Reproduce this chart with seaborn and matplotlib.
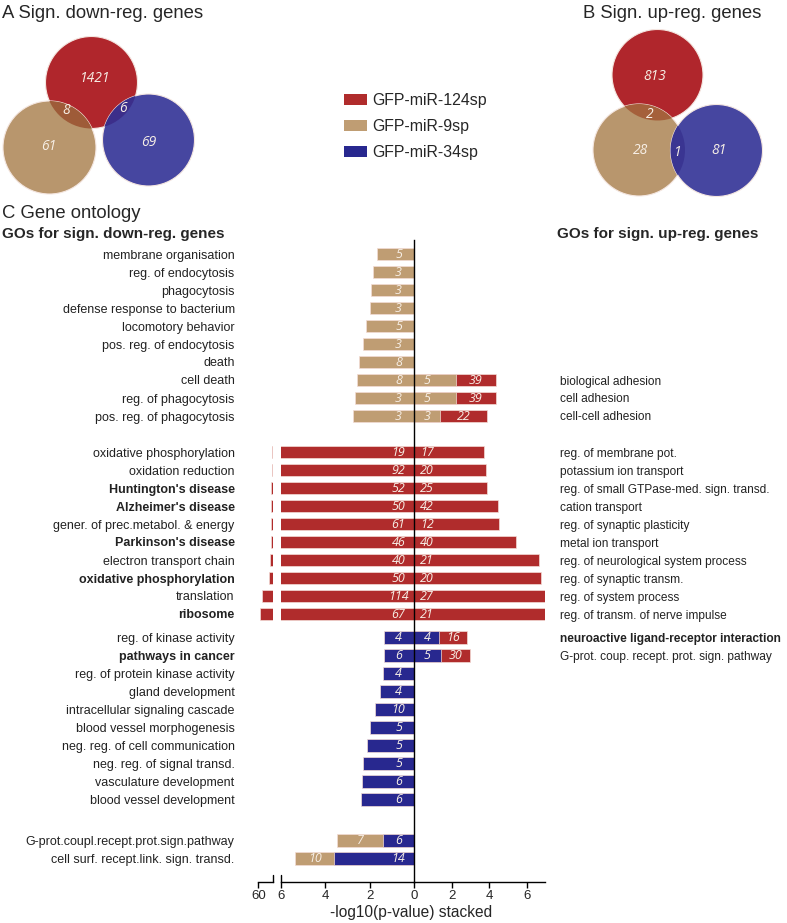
import numpy as np
import pandas as pd
import matplotlib
matplotlib.use("Agg")
import matplotlib.pyplot as plt
from matplotlib.patches import Circle, Patch
import seaborn as sns

# ---------------- data ----------------
series = ["GFP-miR-124sp", "GFP-miR-9sp", "GFP-miR-34sp"]

# Venn counts: 124 only, 9 only, 34 only, 124&9, (124&34 | 9&34)
venn_down_counts = [1421, 61, 69, 8, 6]
venn_up_counts = [813, 28, 81, 2, 1]

down_labels = [
    "membrane organisation", "reg. of endocytosis", "phagocytosis",
    "defense response to bacterium", "locomotory behavior", "pos. reg. of endocytosis",
    "death", "cell death", "reg. of phagocytosis", "pos. reg. of phagocytosis",
    "oxidative phosphorylation", "oxidation reduction", "Huntington's disease",
    "Alzheimer's disease", "gener. of prec.metabol. & energy", "Parkinson's disease",
    "electron transport chain", "oxidative phosphorylation", "translation", "ribosome",
    "reg. of kinase activity", "pathways in cancer", "reg. of protein kinase activity",
    "gland development", "intracellular signaling cascade", "blood vessel morphogenesis",
    "neg. reg. of cell communication", "neg. reg. of signal transd.",
    "vasculature development", "blood vessel development",
    "G-prot.coupl.recept.prot.sign.pathway", "cell surf. recept.link. sign. transd.",
]
down_bold = [12, 13, 15, 17, 19, 21]

up_labels = [""] * 7 + [
    "biological adhesion", "cell adhesion", "cell-cell adhesion",
    "reg. of membrane pot.", "potassium ion transport",
    "reg. of small GTPase-med. sign. transd.", "cation transport",
    "reg. of synaptic plasticity", "metal ion transport",
    "reg. of neurological system process", "reg. of synaptic transm.",
    "reg. of system process", "reg. of transm. of nerve impulse",
    "neuroactive ligand-receptor interaction", "G-prot. coup. recept. prot. sign. pathway",
] + [""] * 10
up_bold = [20]

# -log10(p-value) per segment (down-regulated, drawn to the left)
down_gold = [1.67, 1.84, 1.93, 1.98, 2.17, 2.30, 2.49, 2.56, 2.66, 2.74] + [0] * 20 + [2.08, 1.73]
down_red = [0] * 10 + [59.37, 59.39, 59.41, 59.42, 59.43, 59.44, 59.46, 59.50, 59.84, 59.91] + [0] * 12
down_blue = [0] * 20 + [1.35, 1.37, 1.41, 1.53, 1.77, 1.97, 2.13, 2.29, 2.33, 2.39] + [1.38, 3.62]
# gene counts
down_gold_n = [5, 3, 3, 3, 5, 3, 8, 8, 3, 3] + [0] * 20 + [7, 10]
down_red_n = [0] * 10 + [19, 92, 52, 50, 61, 46, 40, 50, 114, 67] + [0] * 12
down_blue_n = [0] * 20 + [4, 6, 4, 4, 10, 5, 5, 5, 6, 6] + [6, 14]

# up-regulated (drawn to the right)
up_gold = [0] * 7 + [2.23, 2.23, 1.40] + [0] * 22
up_blue = [0] * 20 + [1.34, 1.43] + [0] * 10
up_red = [0] * 7 + [2.10, 2.12, 2.47] + [3.73, 3.80, 3.87, 4.46, 4.53, 5.41, 6.62, 6.74, 6.95, 7.04] + [1.46, 1.52] + [0] * 10
up_gold_n = [0] * 7 + [5, 5, 3] + [0] * 22
up_blue_n = [0] * 20 + [4, 5] + [0] * 10
up_red_n = [0] * 7 + [39, 39, 22] + [17, 20, 25, 42, 12, 40, 21, 20, 27, 21] + [16, 30] + [0] * 10

# ---------------- layout / style ----------------
W, H = 787, 923
colors = {"GFP-miR-124sp": "#b02c2c", "GFP-miR-9sp": "#bf9d73", "GFP-miR-34sp": "#28288f"}
venn_colors = {"GFP-miR-124sp": "#b0262c", "GFP-miR-9sp": "#b8966d", "GFP-miR-34sp": "#4646a0"}

group_sizes = [10, 10, 10, 2]
group_gaps = [0.0, 1.0, 0.3, 1.3]
pos = []
cur = 0.0
for g, gap in zip(group_sizes, group_gaps):
    cur += gap
    for k in range(g):
        pos.append(cur)
        cur += 1
pos = np.array(pos)

sns.set_style("white")
plt.rcParams["font.family"] = ["Liberation Sans", "DejaVu Sans"]
num_font = dict(family=["Open Sans", "DejaVu Sans"], style="italic", color="#f7efe6")

fig = plt.figure(figsize=(W / 100, H / 100), dpi=100)


def fx(x):
    return x / W


def fy(y):
    return 1 - y / H


# ---------------- Venn diagrams ----------------
axv = fig.add_axes([0, 0, 1, 1])
axv.set_xlim(0, W)
axv.set_ylim(H, 0)
axv.axis("off")


def venn(circles, overlaps, counts, count_xy):
    patches = {}
    for name, (cx, cy, r) in circles.items():
        c = Circle((cx, cy), r, facecolor=venn_colors[name], edgecolor="#f4e6e0", lw=0.8)
        axv.add_patch(c)
        patches[name] = c
    for (a, b), col in overlaps.items():
        cx, cy, r = circles[b]
        o = Circle((cx, cy), r, facecolor=col, edgecolor="none")
        axv.add_patch(o)
        o.set_clip_path(patches[a])
    for n, (x, y) in zip(counts, count_xy):
        axv.text(x, y, str(n), ha="center", va="center", fontsize=10, **num_font)


venn({"GFP-miR-124sp": (91.5, 82.5, 46), "GFP-miR-9sp": (49.5, 147.5, 46.5),
      "GFP-miR-34sp": (148.5, 140, 46)},
     {("GFP-miR-124sp", "GFP-miR-9sp"): "#9e5b38", ("GFP-miR-124sp", "GFP-miR-34sp"): "#3c2e8a"},
     venn_down_counts, [(95, 79), (49, 147), (149, 143), (66, 111), (123, 109)])
venn({"GFP-miR-124sp": (657.5, 75, 45.5), "GFP-miR-9sp": (639, 150, 46),
      "GFP-miR-34sp": (716.5, 150.5, 46)},
     {("GFP-miR-124sp", "GFP-miR-9sp"): "#a5603b", ("GFP-miR-9sp", "GFP-miR-34sp"): "#3a3592"},
     venn_up_counts, [(655, 77), (641, 151), (719, 151), (650, 114), (678, 152)])

# titles
fig.text(fx(2), fy(14), "A Sign. down-reg. genes", fontsize=13.3, va="center", ha="left")
fig.text(fx(583), fy(14), "B Sign. up-reg. genes", fontsize=13.3, va="center", ha="left")
fig.text(fx(2), fy(214), "C Gene ontology", fontsize=13.3, va="center", ha="left")
fig.text(fx(2), fy(234), "GOs for sign. down-reg. genes", fontsize=11, fontweight="bold", va="center")
fig.text(fx(557), fy(234), "GOs for sign. up-reg. genes", fontsize=11, fontweight="bold", va="center")

# legend
fig.legend(handles=[Patch(facecolor=colors[s], edgecolor="none", label=s) for s in series],
           loc="upper left", bbox_to_anchor=(fx(344), fy(93)), frameon=False, fontsize=11.4,
           handlelength=1.45, handleheight=0.75, handletextpad=0.35, labelspacing=0.7,
           borderpad=0, borderaxespad=0)

# ---------------- bar panels ----------------
y_top, y_bot = 240, 882
row0, row_px = 254, 18
ylim = ((y_bot - row0) / row_px, (y_top - row0) / row_px)
ab = fy(y_bot)
ah = (y_bot - y_top) / H
ax_brk = fig.add_axes([fx(258.3), ab, 15 / W, ah])
ax_l = fig.add_axes([fx(281), ab, 133 / W, ah])
ax_r = fig.add_axes([fx(414), ab, 131 / W, ah])


def stack(segs):
    """segs: list of (series, values, counts) ordered inner->outer"""
    recs = []
    for i in range(len(pos)):
        start = 0.0
        for s, vals, ns in segs:
            v = vals[i]
            if v > 0:
                recs.append(dict(pos=pos[i], series=s, start=start, end=start + v, n=ns[i]))
                start += v
    return pd.DataFrame(recs)


df_down = stack([("GFP-miR-34sp", down_blue, down_blue_n),
                 ("GFP-miR-9sp", down_gold, down_gold_n),
                 ("GFP-miR-124sp", down_red, down_red_n)])
df_up = stack([("GFP-miR-9sp", up_gold, up_gold_n),
               ("GFP-miR-34sp", up_blue, up_blue_n),
               ("GFP-miR-124sp", up_red, up_red_n)])

for ax, df in [(ax_brk, df_down), (ax_l, df_down), (ax_r, df_up)]:
    sns.barplot(data=df, x="end", y="pos", hue="series",
                hue_order=["GFP-miR-124sp", "GFP-miR-9sp", "GFP-miR-34sp"] if df is df_down
                else ["GFP-miR-124sp", "GFP-miR-34sp", "GFP-miR-9sp"],
                palette=colors, saturation=1, orient="h", native_scale=True, dodge=False,
                errorbar=None, width=0.72, edgecolor="#f3dcd6", linewidth=0.5,
                legend=False, ax=ax)
    ax.set_ylim(*ylim)
    ax.set_xlabel("")
    ax.set_ylabel("")

ax_brk.set_xlim(60, 59.32)
ax_l.set_xlim(6, 0)
ax_r.set_xlim(0, 6.95)

# counts in the bars
for ax, df, inner_x in [(ax_l, df_down, 0.7), (ax_r, df_up, 0.7)]:
    for _, r in df.iterrows():
        if r["start"] == 0:
            x = inner_x
        else:
            x = (r["start"] + r["end"]) / 2
        ax.text(x, r["pos"], str(int(r["n"])), ha="center", va="center", fontsize=9, **num_font)

# spines & ticks
for ax in (ax_brk, ax_l, ax_r):
    for sp in ("top", "right", "left"):
        ax.spines[sp].set_visible(False)
    ax.spines["bottom"].set_color("black")
    ax.spines["bottom"].set_linewidth(1.0)
    ax.tick_params(axis="x", direction="out", length=4, width=1, color="black",
                   labelsize=9.5, pad=2, bottom=True)
    ax.set_facecolor("none")
ax_r.spines["left"].set_visible(True)
ax_r.spines["left"].set_color("black")
ax_r.spines["left"].set_linewidth(1.0)

ax_brk.set_xticks([60])
ax_l.set_xticks([6, 4, 2, 0])
ax_r.set_xticks([2, 4, 6])

# break marks
for ax, xa in [(ax_brk, 1.0), (ax_l, 0.0)]:
    ax.plot([xa, xa], [0, 7 / (y_bot - y_top)], transform=ax.transAxes, color="black",
            lw=1.0, clip_on=False)

# category labels
ax_brk.set_yticks(pos)
ax_brk.set_yticklabels(down_labels)
ax_brk.tick_params(axis="y", length=0, pad=17, labelsize=9, left=True, labelleft=True)
for i, t in enumerate(ax_brk.get_yticklabels()):
    t.set_color("#222222")
    if i in down_bold:
        t.set_fontweight("bold")
ax_l.set_yticks([])

up_idx = [i for i, l in enumerate(up_labels) if l]
ax_r.yaxis.tick_right()
ax_r.set_yticks(pos[up_idx])
ax_r.set_yticklabels([up_labels[i] for i in up_idx])
ax_r.tick_params(axis="y", length=0, pad=11, labelsize=8.6)
for i, t in zip(up_idx, ax_r.get_yticklabels()):
    t.set_color("#222222")
    t.set_ha("left")
    if i in up_bold:
        t.set_fontweight("bold")

fig.text(fx(411.5), fy(912), "-log10(p-value) stacked", fontsize=11.2, ha="center", va="center")

fig.savefig("out.png", dpi=100)
